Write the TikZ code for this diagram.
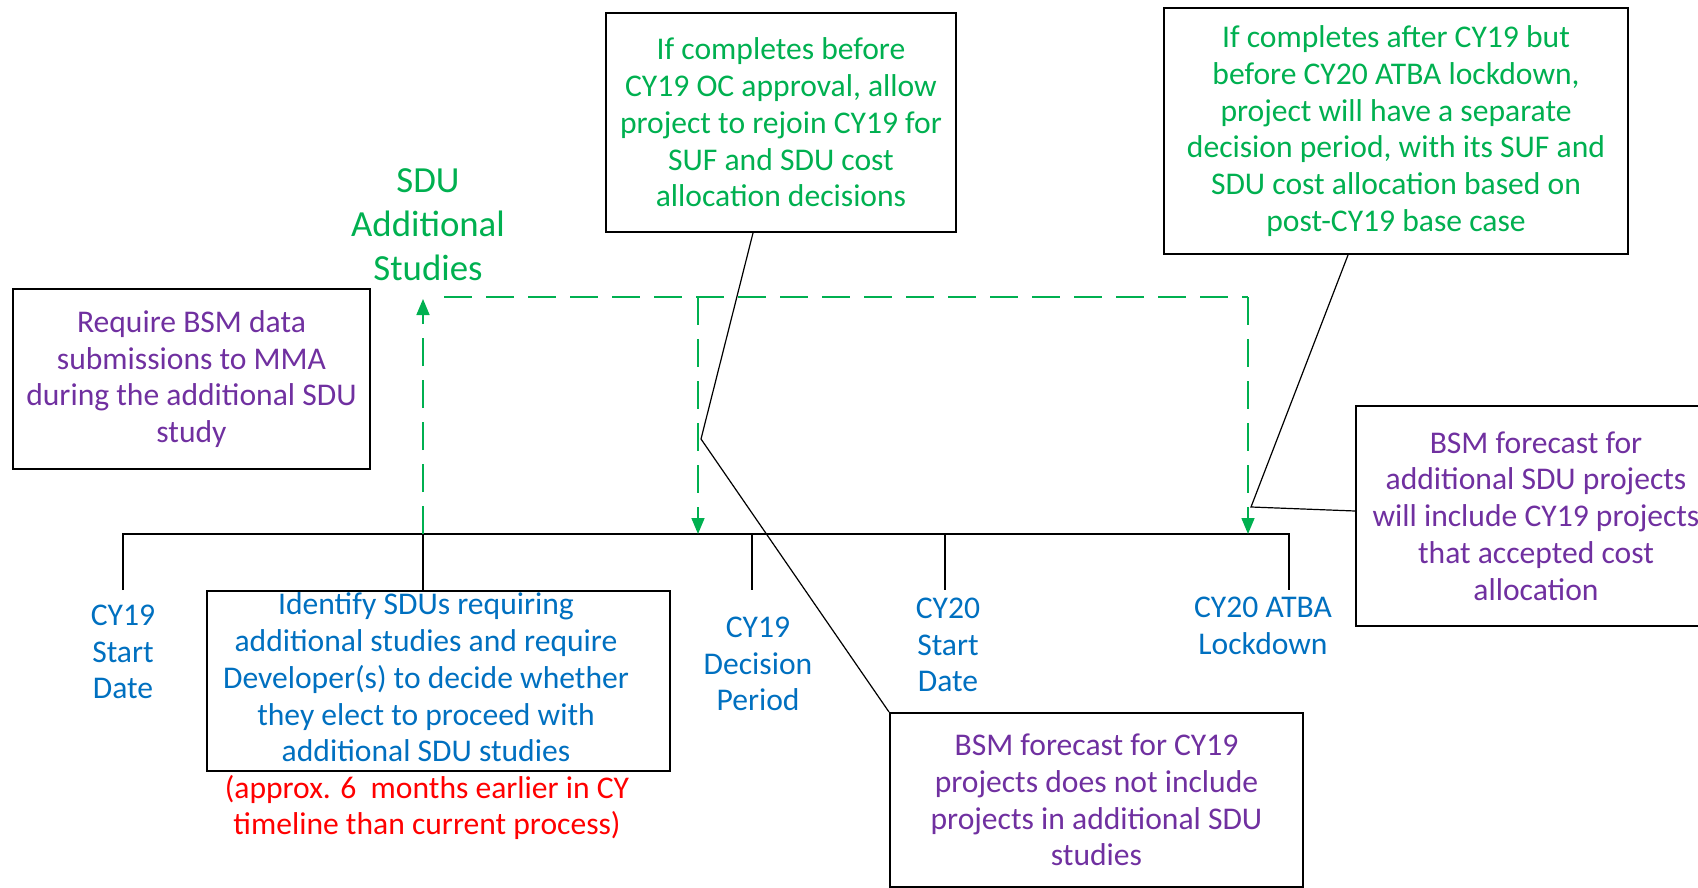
\documentclass[tikz,border=0pt]{standalone}
\usepackage{fontspec}
\setmainfont{Carlito}
\usepackage{xcolor}
\definecolor{noteGreen}{HTML}{00B050}
\definecolor{dateBlue}{HTML}{0070C0}
\definecolor{notePurple}{HTML}{7030A0}
\definecolor{noteRed}{HTML}{FF0000}
\usepackage{tikz}
\usetikzlibrary{positioning,calc,arrows.meta}
\tikzset{%
  noteBox/.style={%
    rectangle,
    draw=black,
    line width=1pt,
    inner sep=2pt,
    align=center,
    font=\fontsize{15.8}{18.4}\selectfont
  },
  dateLabel/.style={%
    text=dateBlue,
    align=center,
    inner sep=0pt,
    font=\fontsize{15.8}{18.4}\selectfont
  },
  timeLine/.style={%
    line width=1pt,
    color=black
  },
  calloutLine/.style={%
    line width=0.6pt,
    color=black
  },
  studyArrow/.style={%
    -{Triangle[length=8pt,width=6.5pt]},
    line width=0.8pt,
    dash pattern=on 14pt off 7pt,
    color=noteGreen
  },
  studyLine/.style={%
    line width=0.8pt,
    dash pattern=on 14pt off 7pt,
    color=noteGreen
  }
}

\begin{document}
\begin{tikzpicture}[x=0.5pt,y=-0.5pt]
  \useasboundingbox (0,0) rectangle (1698,888);

  % boxes
  \node[noteBox, text=notePurple, minimum width=178.5pt, minimum height=90pt] (bsmDataBox) at (191.5,379)
    {Require BSM data\\submissions to MMA\\during the additional SDU\\study};
  \node[noteBox, text=noteGreen, minimum width=175pt, minimum height=109.5pt] (ocBox) at (781,122.5)
    {If completes before\\CY19 OC approval, allow\\project to rejoin CY19 for\\SUF and SDU cost\\allocation decisions};
  \node[noteBox, text=noteGreen, minimum width=232pt, minimum height=123pt] (atbaBox) at (1396,131)
    {If completes after CY19 but\\before CY20 ATBA lockdown,\\project will have a separate\\decision period, with its SUF and\\SDU cost allocation based on\\post-CY19 base case};
  \node[noteBox, text=notePurple, minimum width=180pt, minimum height=110pt] (addForecastBox) at (1536,516)
    {BSM forecast for\\additional SDU projects\\will include CY19 projects\\that accepted cost\\allocation};
  \node[noteBox, text=dateBlue, minimum width=231.5pt, minimum height=90pt, inner xsep=0pt, inner ysep=-1pt, align=none] (identifyBox) at (438.5,681)
    {\begin{tabular}{@{}c@{}}Identify SDUs requiring\\additional studies and require\\Developer(s) to decide whether\\they elect to proceed with\\additional SDU studies\end{tabular}\kern12.5pt};
  \node[noteBox, text=notePurple, minimum width=206.5pt, minimum height=87pt] (cy19ForecastBox) at (1096.5,800)
    {BSM forecast for CY19\\projects does not include\\projects in additional SDU\\studies};

  % labels
  \node[dateLabel, text=noteGreen, font=\fontsize{18.4}{22}\selectfont] (sduLabel) at (428,225)
    {SDU\\Additional\\Studies};
  \node[dateLabel] (cy19Start) at (123,652) {CY19\\Start\\Date};
  \node[dateLabel] (cy19Decision) at (758,664) {CY19\\Decision\\Period};
  \node[dateLabel] (cy20Start) at (948,645) {CY20\\Start\\Date};
  \node[dateLabel] (atbaLock) at (1263,626) {CY20 ATBA\\Lockdown};
  \node[dateLabel, text=noteRed] (approxNote) at (427,807.5)
    {(approx. 6~ months earlier in CY\\timeline than current process)};

  % timeline
  \coordinate (tlStart) at (123,534);
  \coordinate (tlEnd) at (1289,534);
  \coordinate (tlStudy) at (423,534);
  \coordinate (tlDecision) at (752,534);
  \coordinate (tlCy20) at (945,534);
  \draw[timeLine] (123,590) -- (tlStart) -- (tlEnd) -- (1289,590);
  \draw[timeLine] (tlStudy) -- (tlStudy |- identifyBox.north);
  \draw[timeLine] (tlDecision) -- ++(0,56);
  \draw[timeLine] (tlCy20) -- ++(0,56);

  % green study path
  \coordinate (dashStart) at (444,297);
  \coordinate (dashMid) at (698,297);
  \coordinate (dashEnd) at (1248,297);
  \draw[studyArrow] (tlStudy) -- (tlStudy |- 0,299);
  \draw[studyLine] (dashStart) -- (dashEnd);
  \draw[studyArrow] (dashMid) -- (dashMid |- tlStart);
  \draw[studyArrow] (dashEnd) -- (dashEnd |- tlStart);

  % callouts
  \coordinate (ocBend) at (701,439);
  \coordinate (atbaBend) at (1251,507);
  \draw[calloutLine] ([xshift=-14pt]ocBox.south) -- (ocBend) -- (cy19ForecastBox.north west);
  \draw[calloutLine] ([xshift=-24pt]atbaBox.south) -- (atbaBend) -- ([yshift=2.5pt]addForecastBox.west);
\end{tikzpicture}
\end{document}
